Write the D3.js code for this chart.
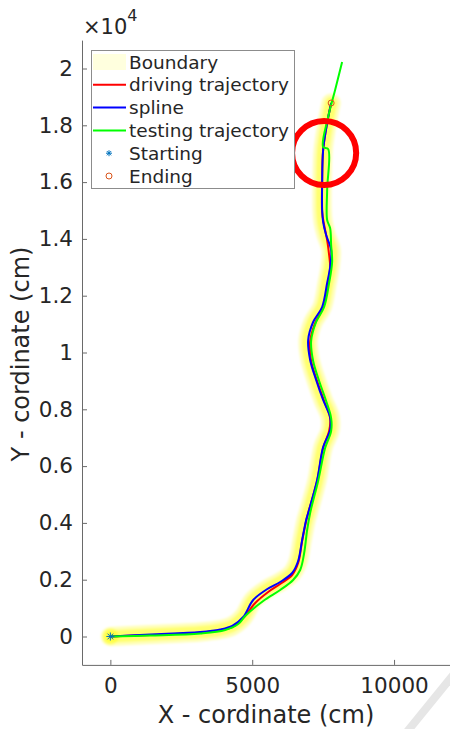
<!DOCTYPE html>
<html>
<head>
<meta charset="utf-8">
<script src="https://cdn.jsdelivr.net/npm/d3@7"></script>
<style>
  body { margin: 0; background: #fff; }
  text { font-family: "DejaVu Sans", sans-serif; fill: #262626; }
</style>
</head>
<body>
<div id="chart"></div>
<script>
// values (cm)
const xSpline = [0, 1408, 3169, 3873, 4296, 4683, 5035, 5535, 5986, 6408, 6619, 6760, 6901, 6972, 7288, 7500, 7746, 7746, 7500, 7253, 7042, 6972, 7148, 7465, 7641, 7746, 7782, 7606, 7500, 7465, 7465, 7500, 7641, 7782]
const ySpline = [0, 70, 158, 246, 370, 687, 1285, 1673, 1919, 2236, 2658, 3398, 4102, 4348, 5510, 6672, 7271, 7728, 8327, 9031, 9735, 10440, 11074, 11602, 12447, 13010, 13609, 14137, 14595, 15018, 15968, 17130, 18081, 18785]

const xDriving = [0, 1408, 3169, 3873, 4296, 4683, 5106, 5563, 5986, 6408, 6619, 6760, 6901, 6972, 7288, 7500, 7711, 7746, 7535, 7288, 7077, 7042, 7218, 7500, 7676, 7746, 7711, 7641, 7535, 7465, 7465, 7500, 7641, 7782]
const yDriving = [0, 53, 141, 229, 334, 651, 1180, 1567, 1849, 2165, 2588, 3362, 4067, 4348, 5475, 6637, 7236, 7693, 8292, 8996, 9700, 10404, 11038, 11602, 12447, 13010, 13433, 13961, 14489, 14947, 15968, 17130, 18081, 18785]

const xTesting = [0, 1408, 3169, 4049, 4507, 4753, 5387, 5986, 6443, 6690, 6831, 6936, 7042, 7324, 7570, 7782, 7782, 7606, 7359, 7148, 7077, 7253, 7535, 7711, 7817, 7782, 7746, 7641, 7641, 7676, 7500, 7676, 7922, 8169]
const yTesting = [0, 35, 106, 229, 440, 722, 1250, 1637, 1989, 2341, 2940, 3750, 4348, 5475, 6637, 7236, 7693, 8292, 8996, 9700, 10404, 11074, 11602, 12447, 13186, 13785, 14383, 14665, 15722, 17165, 17236, 18292, 19243, 20229]

const startPoint = [0, 0]
const endPoint = [7782, 18785]
const highlight = [7535, 17024, 1130] // red ring: centre x, y, radius

const xTicks = [0, 5000, 10000]
const yTicks = [0, 2000, 4000, 6000, 8000, 10000, 12000, 14000, 16000, 18000, 20000]
const legendLabels = ['Boundary', 'driving trajectory', 'spline', 'testing trajectory', 'Starting', 'Ending']

const width = 450, height = 729

const svg = d3.select('#chart').append('svg')
  .attr('width', width)
  .attr('height', height)

svg.append('rect').attr('width', width).attr('height', height).attr('fill', '#fff')

let x = d3.scaleLinear().domain([-1000, 12000]).range([82, 450.8])
let y = d3.scaleLinear().domain([-1000, 21000]).range([664.9, 40.1])

const zip = (xs, ys) => xs.map((v, i) => [v, ys[i]])

let path = d3.line()
  .x(d => x(d[0]))
  .y(d => y(d[1]))
  .curve(d3.curveCatmullRom.alpha(0.5))

// boundary band around the spline
let defs = svg.append('defs')
defs.append('filter').attr('id', 'soft')
  .append('feGaussianBlur').attr('stdDeviation', 1.2)

let band = svg.append('g').attr('filter', 'url(#soft)')
band.append('path')
  .attr('d', path(zip(xSpline, ySpline)))
  .attr('fill', 'none')
  .attr('stroke', '#ffff00')
  .attr('stroke-opacity', 0.28)
  .attr('stroke-width', 19)
  .attr('stroke-linecap', 'round')
band.append('path')
  .attr('d', path(zip(xSpline, ySpline)))
  .attr('fill', 'none')
  .attr('stroke', '#ffff00')
  .attr('stroke-opacity', 0.4)
  .attr('stroke-width', 12)
  .attr('stroke-linecap', 'round')
band.append('circle')
  .attr('cx', x(startPoint[0])).attr('cy', y(startPoint[1]))
  .attr('r', 8).attr('fill', '#ffff00').attr('fill-opacity', 0.4)

// trajectories
const series = [
  { xs: xDriving, ys: yDriving, color: '#ff0000' },
  { xs: xSpline, ys: ySpline, color: '#0000ff' },
  { xs: xTesting, ys: yTesting, color: '#00ff00' }
]
series.forEach(s => {
  svg.append('path')
    .attr('d', path(zip(s.xs, s.ys)))
    .attr('fill', 'none')
    .attr('stroke', s.color)
    .attr('stroke-width', 2)
})

// markers
function star(g, cx, cy, r, color) {
  for (let a = 0; a < 4; a++) {
    let ang = a * Math.PI / 4
    g.append('line')
      .attr('x1', cx - r * Math.cos(ang)).attr('y1', cy - r * Math.sin(ang))
      .attr('x2', cx + r * Math.cos(ang)).attr('y2', cy + r * Math.sin(ang))
      .attr('stroke', color).attr('stroke-width', 1)
  }
}
star(svg, x(startPoint[0]), y(startPoint[1]), 4, '#0072bd')
svg.append('circle')
  .attr('cx', x(endPoint[0])).attr('cy', y(endPoint[1]))
  .attr('r', 3).attr('fill', 'none').attr('stroke', '#d95319').attr('stroke-width', 1)

// axes (MATLAB style: ticks inside)
let xAxis = svg.append('g')
  .attr('transform', `translate(0,${y(-1000)})`)
  .call(d3.axisBottom(x).tickValues(xTicks).tickSizeInner(-5).tickSizeOuter(0).tickPadding(13)
    .tickFormat(d3.format('d')))
let yAxis = svg.append('g')
  .attr('transform', `translate(${x(-1000)},0)`)
  .call(d3.axisLeft(y).tickValues(yTicks).tickSizeInner(-5).tickSizeOuter(0).tickPadding(9)
    .tickFormat(d => d3.format('~g')(d / 10000)))

;[xAxis, yAxis].forEach(a => {
  a.select('.domain').attr('stroke', '#6a6a6a')
  a.selectAll('.tick line').attr('stroke', '#6a6a6a')
  a.selectAll('.tick text')
    .style('font-family', '"DejaVu Sans", sans-serif')
    .style('font-size', '21.5px')
    .attr('fill', '#262626')
})

// exponent
let expo = svg.append('text').attr('x', 83).attr('y', 34).style('font-size', '21px')
expo.append('tspan').text('×10')
expo.append('tspan').attr('dy', -13).style('font-size', '16px').text('4')

// axis labels
svg.append('text')
  .attr('x', 266).attr('y', 723)
  .attr('text-anchor', 'middle')
  .style('font-size', '24px')
  .text('X - cordinate (cm)')
svg.append('text')
  .attr('transform', 'translate(29,354) rotate(-90)')
  .attr('text-anchor', 'middle')
  .style('font-size', '24px')
  .text('Y - cordinate (cm)')

// red ring
svg.append('circle')
  .attr('cx', x(highlight[0])).attr('cy', y(highlight[1]))
  .attr('r', x(highlight[0] + highlight[2]) - x(highlight[0]))
  .attr('fill', 'none')
  .attr('stroke', '#ff0000')
  .attr('stroke-width', 6)

// legend
let legend = svg.append('g')
legend.append('rect')
  .attr('x', 91.5).attr('y', 50.5).attr('width', 203).attr('height', 138)
  .attr('fill', '#fff').attr('stroke', '#8c8c8c').attr('stroke-width', 1)

let rowY = d3.scalePoint().domain(legendLabels).range([62, 176])
legend.append('rect')
  .attr('x', 93).attr('y', rowY('Boundary') - 8).attr('width', 33).attr('height', 16)
  .attr('fill', '#ffff00').attr('fill-opacity', 0.13)
series.forEach((s, i) => {
  legend.append('line')
    .attr('x1', 93).attr('x2', 126)
    .attr('y1', rowY(legendLabels[i + 1])).attr('y2', rowY(legendLabels[i + 1]))
    .attr('stroke', s.color).attr('stroke-width', 2)
})
star(legend, 109, rowY('Starting'), 3, '#0072bd')
legend.append('circle')
  .attr('cx', 109).attr('cy', rowY('Ending')).attr('r', 3)
  .attr('fill', 'none').attr('stroke', '#d95319').attr('stroke-width', 1)

legend.selectAll('text.lab')
  .data(legendLabels)
  .enter().append('text')
  .attr('class', 'lab')
  .attr('x', 129)
  .attr('y', d => rowY(d))
  .attr('dy', '0.36em')
  .style('font-size', '18.5px')
  .attr('fill', '#000')
  .text(d => d)

// grey page-fold stripe at the bottom right corner
svg.append('line')
  .attr('x1', 454).attr('y1', 674).attr('x2', 406).attr('y2', 733)
  .attr('stroke', '#e6e6e6').attr('stroke-width', 8)
</script>
</body>
</html>
